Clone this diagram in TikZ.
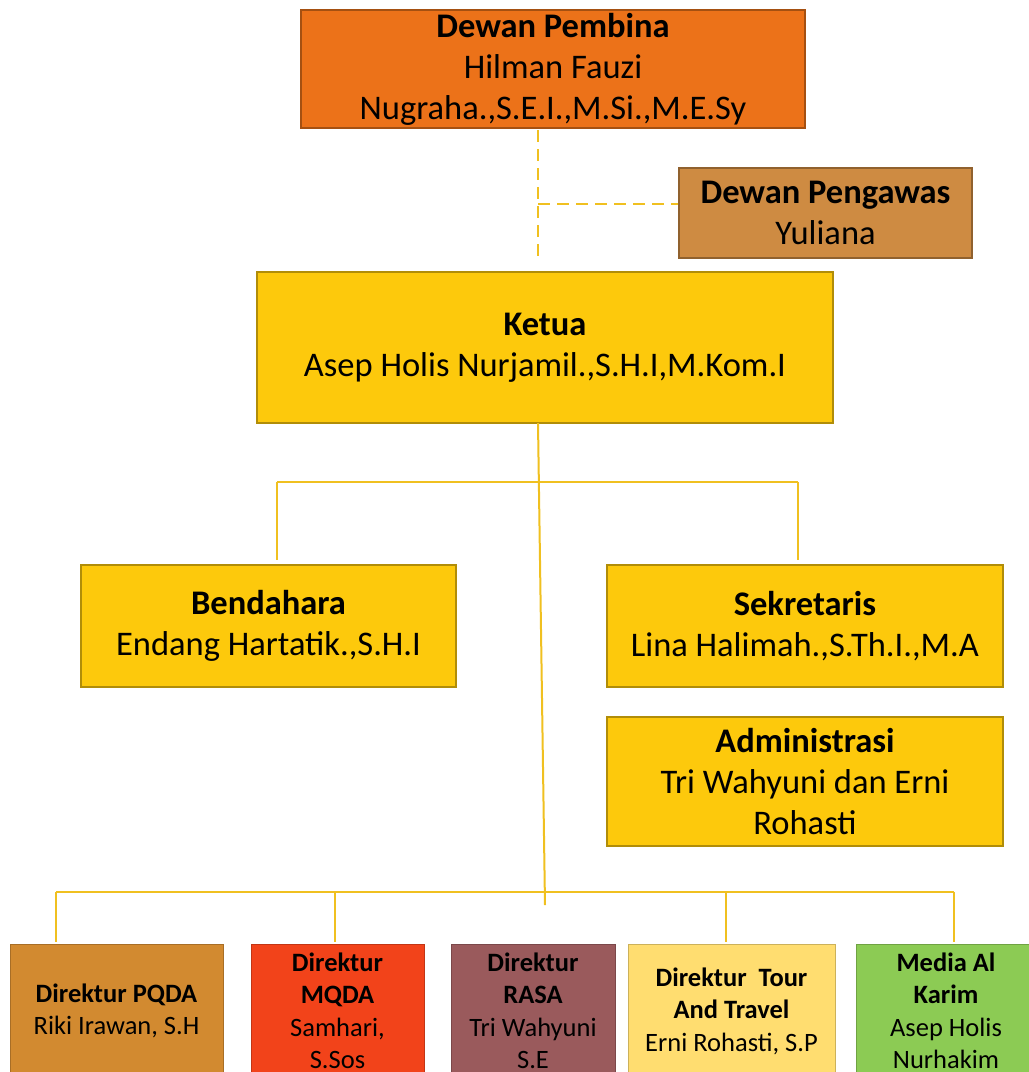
\documentclass[tikz,border=0pt]{standalone}
\usepackage{fontspec}
\setmainfont{Carlito}
\definecolor{pembina}{HTML}{EC7219}
\definecolor{pengawas}{HTML}{CE8B42}
\definecolor{kuning}{HTML}{FDC90C}
\definecolor{garis}{HTML}{F0C020}
\definecolor{dirA}{HTML}{D28A30}
\definecolor{dirB}{HTML}{F2431A}
\definecolor{dirC}{HTML}{9A5A5C}
\definecolor{dirD}{HTML}{FFDD70}
\definecolor{dirE}{HTML}{8CCB54}
\tikzset{
  box/.style={draw=#1!70!black, line width=1.2pt, fill=#1, align=center, inner sep=0pt,
    font=\fontsize{34.5}{41}\selectfont, execute at begin node={\rule{0pt}{0.95em}}},
  lowbox/.style={draw=#1!80!black, line width=1pt, fill=#1, align=center, inner sep=0pt,
    font=\fontsize{26.5}{32.5}\selectfont},
  link/.style={draw=garis, line width=2pt},
  dlink/.style={draw=garis, line width=2pt, dash pattern=on 12pt off 7pt},
}
\begin{document}
\begin{tikzpicture}[x=1pt,y=-1pt]
\useasboundingbox (0,0) rectangle (1029,1072);
\clip (0,0) rectangle (1029,1072);
% top
\node[box=pembina, minimum width=504pt, minimum height=118pt] (pembina) at (553,69)
  {\textbf{Dewan Pembina}\\Hilman Fauzi\\Nugraha.,S.E.I.,M.Si.,M.E.Sy};
\node[box=pengawas, minimum width=293pt, minimum height=90pt] (pengawas) at (825.5,213)
  {\textbf{Dewan Pengawas}\\Yuliana};
\node[box=kuning, minimum width=576pt, minimum height=151pt] (ketua) at (545,347.5)
  {\textbf{Ketua}\\Asep Holis Nurjamil.,S.H.I,M.Kom.I};
\node[box=kuning, minimum width=375pt, minimum height=122pt] (bendahara) at (268.5,626)
  {\textbf{Bendahara}\\Endang Hartatik.,S.H.I};
\node[box=kuning, minimum width=396pt, minimum height=122pt] (sekretaris) at (805,626)
  {\textbf{Sekretaris}\\Lina Halimah.,S.Th.I.,M.A};
\node[box=kuning, minimum width=396pt, minimum height=129pt] (admin) at (805,781.5)
  {\textbf{Administrasi}\\Tri Wahyuni dan Erni\\Rohasti};
% bottom
\node[lowbox=dirA, minimum width=213pt, minimum height=134pt] (pqda) at (116.5,1011)
  {\textbf{Direktur PQDA}\\Riki Irawan, S.H};
\node[lowbox=dirB, minimum width=173pt, minimum height=134pt] (mqda) at (337.5,1011)
  {\textbf{Direktur}\\\textbf{MQDA}\\Samhari,\\S.Sos};
\node[lowbox=dirC, minimum width=164pt, minimum height=134pt] (rasa) at (533,1011)
  {\textbf{Direktur}\\\textbf{RASA}\\Tri Wahyuni\\S.E};
\node[lowbox=dirD, minimum width=207pt, minimum height=134pt] (tour) at (731.5,1011)
  {\textbf{Direktur\ \ Tour}\\\textbf{And Travel}\\Erni Rohasti, S.P};
\node[lowbox=dirE, minimum width=180pt, minimum height=134pt] (media) at (946,1011)
  {\textbf{Media Al}\\\textbf{Karim}\\Asep Holis\\Nurhakim};
% dashed connectors
\coordinate (dtop) at (538,130);
\coordinate (dmid) at (538,204);
\coordinate (dbot) at (538,260);
\draw[dlink] (dtop) -- (dbot);
\draw[dlink] (dmid) -- (dmid -| pengawas.west);
% ketua connectors
\coordinate (ks) at (538,423);
\coordinate (kb) at (545,905);
\coordinate (hl) at (277,482);
\coordinate (hr) at (798,482);
\coordinate (bl) at (277,560);
\coordinate (br) at (798,560);
\draw[link] (ks) -- (kb);
\draw[link] (hl) -- (hr);
\draw[link] (hl) -- (bl);
\draw[link] (hr) -- (br);
% bottom connectors
\coordinate (b1) at (56,892);
\coordinate (b2) at (335,892);
\coordinate (b4) at (726,892);
\coordinate (b5) at (954,892);
\draw[link] (b1) -- (b5);
\draw[link] (b1) -- (56,942);
\draw[link] (b2) -- (335,942);
\draw[link] (b4) -- (726,942);
\draw[link] (b5) -- (954,942);
\end{tikzpicture}
\end{document}
